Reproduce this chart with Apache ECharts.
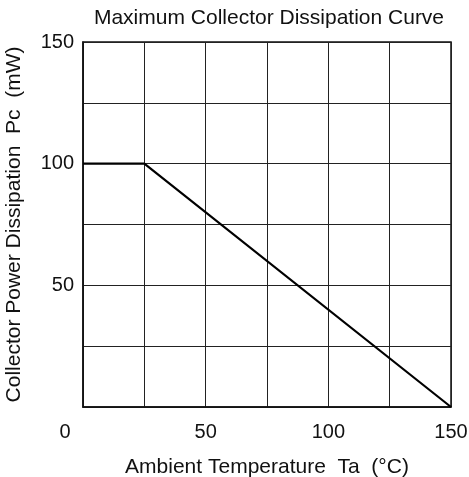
<!DOCTYPE html>
<html>
<head>
<meta charset="utf-8">
<script src="https://cdn.jsdelivr.net/npm/echarts@6/dist/echarts.min.js"></script>
<style>html,body{margin:0;padding:0;background:#fff;}#c{width:469px;height:477px;}</style>
</head>
<body>
<div id="c"></div>
<script>
var titleText = 'Maximum Collector Dissipation Curve';
var xName = 'Ambient Temperature  Ta  (°C)';
var yName = 'Collector Power Dissipation  Pc  (mW)';
var temperature = [0, 25, 150];
var power = [100, 100, 0];
var xLabels = [0, 50, 100, 150];
var yLabels = [50, 100, 150];

var chart = echarts.init(document.getElementById('c'));
var font = 'Liberation Sans, Arial, sans-serif';
chart.setOption({
  animation: false,
  backgroundColor: '#fff',
  title: {
    text: titleText, left: 264, top: 3, textAlign: 'center',
    textStyle: {fontFamily: font, fontSize: 21, fontWeight: 'normal', color: '#111'}
  },
  grid: {left: 83, right: 18, top: 42, bottom: 70, containLabel: false, outerBoundsMode: 'none'},
  xAxis: {
    type: 'value', min: 0, max: 150, interval: 25,
    name: xName, nameLocation: 'middle', nameGap: 50,
    nameTextStyle: {fontFamily: font, fontSize: 21, color: '#111'},
    axisLine: {show: true, lineStyle: {color: '#111', width: 1.5}},
    axisTick: {show: false},
    splitLine: {show: true, lineStyle: {color: '#222', width: 1}},
    axisLabel: {
      margin: 15, fontFamily: font, fontSize: 20, color: '#111',
      formatter: function (v) {
        if (xLabels.indexOf(v) < 0) return '';
        return v === 0 ? '{z|0}' : String(v);
      },
      rich: {z: {fontFamily: font, fontSize: 20, color: '#111', padding: [0, 36, 0, 0]}}
    }
  },
  yAxis: {
    type: 'value', min: 0, max: 150, interval: 25,
    name: yName, nameLocation: 'middle', nameGap: 58,
    nameTextStyle: {fontFamily: font, fontSize: 21, color: '#111'},
    axisLine: {show: true, lineStyle: {color: '#111', width: 1.5}},
    axisTick: {show: false},
    splitLine: {show: true, lineStyle: {color: '#222', width: 1}},
    axisLabel: {
      margin: 9, fontFamily: font, fontSize: 20, color: '#111',
      formatter: function (v) { return yLabels.indexOf(v) >= 0 ? String(v) : ''; }
    }
  },
  series: [{
    type: 'line',
    data: temperature.map(function (t, i) { return [t, power[i]]; }),
    showSymbol: false,
    lineStyle: {color: '#000', width: 2.2},
    silent: true
  }],
  graphic: [{
    type: 'rect', shape: {x: 83, y: 42, width: 368, height: 365},
    style: {fill: 'none', stroke: '#111', lineWidth: 1.5}, silent: true
  }]
});
</script>
</body>
</html>
